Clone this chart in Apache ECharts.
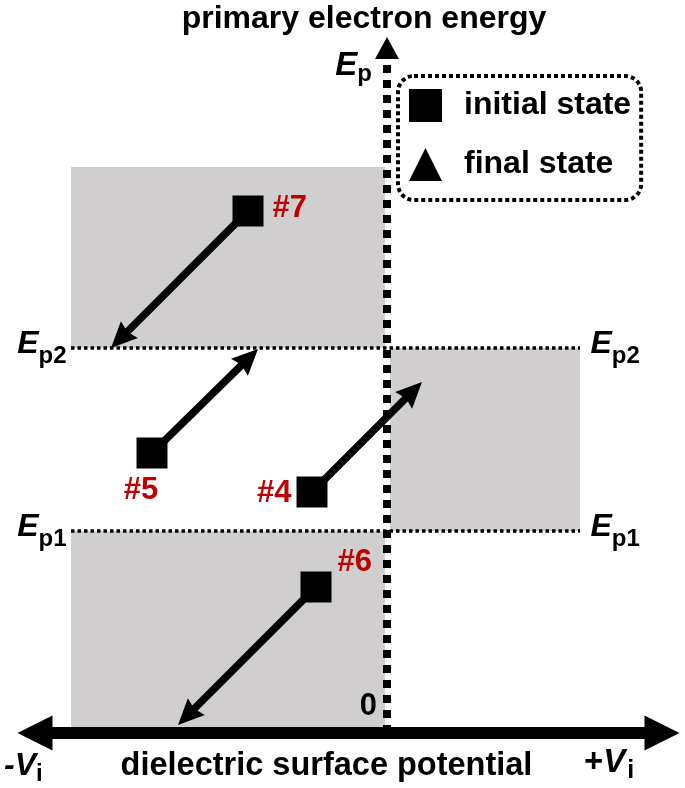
<!DOCTYPE html>
<html>
<head>
<meta charset="utf-8">
<title>primary electron energy / dielectric surface potential</title>
<script src="https://cdn.jsdelivr.net/npm/echarts@6/dist/echarts.min.js"></script>
<style>
  html, body { margin: 0; padding: 0; background: #fff; }
  #chart { width: 685px; height: 788px; }
</style>
</head>
<body>
<div id="chart"></div>
<script>
// schematic, arbitrary units: x = surface potential, y = primary electron energy, origin at (0,0)
var xMin = -352, xMax = 275;
var yMin = 0, yMax = 685;

var Ep1 = 202, Ep2 = 385;
var regionLeft = -316, regionRight = 193, regionTop = 566;

// grey regions [x0, x1, y0, y1]
var regions = [
  [regionLeft, -2, Ep2, regionTop],
  [3, regionRight, Ep1, Ep2],
  [regionLeft, -2, 0, Ep1]
];

// cases: initial state (square) -> final state (arrow tip)
var caseNames = ['#7', '#5', '#4', '#6'];
var initialX = [-139, -235, -75, -71];
var initialY = [522, 280, 241, 146];
var finalX = [-276, -129, 35, -209];
var finalY = [385, 384, 351, 8];

var F = '"Liberation Sans", Arial, sans-serif';
var RED = '#C00000';
var GREY = '#D0CECE';

// where each case number sits next to its square
var labelPlace = [
  { position: 'right', distance: 9, offset: [0, -3] },
  { position: 'bottom', distance: 6, offset: [-11, 0] },
  { position: 'left', distance: 5, offset: [0, 1] },
  { position: 'right', distance: 6, offset: [0, -25] }
];

var epRich = {
  e: { fontFamily: F, fontSize: 32, fontStyle: 'italic', fontWeight: 'bold', color: '#000', padding: [0, 0, 7, 0] },
  s: { fontFamily: F, fontSize: 24, fontWeight: 'bold', color: '#000', padding: [16, 0, 0, 0] }
};

function epLine(sub, e) {
  return {
    type: 'line',
    name: 'E' + sub,
    z: 3,
    silent: true,
    symbol: 'circle',
    symbolSize: 1,
    showSymbol: true,
    itemStyle: { color: 'rgba(0,0,0,0)' },
    lineStyle: { color: '#000', width: 3.5, type: [3.5, 3], cap: 'butt' },
    label: { show: true, formatter: '{e|E}{s|' + sub + '}', rich: epRich },
    data: [
      { value: [regionLeft, e], label: { position: 'left', distance: 4 } },
      { value: [regionRight, e], label: { position: 'right', distance: 10 } }
    ]
  };
}

var chart = echarts.init(document.getElementById('chart'));

var option = {
  animation: false,
  textStyle: { fontFamily: F },
  grid: { left: 35, right: 23, top: 48, bottom: 55, containLabel: false, outerBoundsMode: 'none' },
  legend: {
    left: 398,
    top: 76,
    orient: 'vertical',
    padding: [13, 10, 19, 11],
    itemWidth: 33,
    itemHeight: 33,
    itemGap: 26,
    borderColor: '#000',
    borderWidth: 4,
    borderType: [4, 3],
    borderRadius: 16,
    selectedMode: false,
    itemStyle: { opacity: 1 },
    textStyle: { fontFamily: F, fontSize: 32, fontWeight: 'bold', color: '#000', padding: [0, 0, 0, 17] },
    data: [
      { name: 'initial state', icon: 'rect' },
      { name: 'final state', icon: 'triangle' }
    ]
  },
  xAxis: {
    type: 'value',
    min: xMin,
    max: xMax,
    z: 10,
    name: 'dielectric surface potential',
    nameLocation: 'middle',
    nameGap: 17,
    nameTextStyle: { fontFamily: F, fontSize: 32.5, fontWeight: 'bold', color: '#000', padding: [0, 44, 0, 0] },
    axisLine: {
      show: true,
      onZero: true,
      symbol: ['triangle', 'triangle'],
      symbolSize: [35, 35],
      lineStyle: { color: '#000', width: 12, cap: 'butt' }
    },
    axisTick: { show: false },
    axisLabel: { show: false },
    splitLine: { show: false }
  },
  yAxis: {
    type: 'value',
    min: yMin,
    max: yMax,
    z: 10,
    // put the whole axis (line, labels, name) at x = 0
    position: 'left',
    offset: -352,
    name: 'primary electron energy',
    nameLocation: 'end',
    nameGap: 13,
    nameMoveOverlap: false,
    nameTextStyle: { fontFamily: F, fontSize: 32, fontWeight: 'bold', color: '#000', padding: [0, 46, 0, 0] },
    axisLine: {
      show: true,
      onZero: false,
      symbol: ['none', 'triangle'],
      symbolSize: [24, 22],
      lineStyle: { color: '#000', width: 8, type: [8, 7], cap: 'butt' }
    },
    axisTick: { show: false },
    splitLine: { show: false },
    axisLabel: {
      show: true,
      customValues: [0, yMax],
      margin: 10,
      formatter: function (v) {
        return v === 0 ? '{n|0}' : '{e|E}{s|p}';
      },
      rich: {
        n: { fontFamily: F, fontSize: 31, fontWeight: 'bold', color: '#000', padding: [0, 0, 53, 0] },
        e: { fontFamily: F, fontSize: 33, fontStyle: 'italic', fontWeight: 'bold', color: '#000', padding: [35, 0, 0, 0] },
        s: { fontFamily: F, fontSize: 24, fontWeight: 'bold', color: '#000', padding: [52, 5, 0, 0] }
      }
    }
  },
  graphic: [
    {
      type: 'text', x: 4, y: 766, silent: true,
      style: {
        text: '{v|-V}{s|i}', verticalAlign: 'middle', align: 'left',
        rich: {
          v: { fontFamily: F, fontSize: 32, fontStyle: 'italic', fontWeight: 'bold', fill: '#000' },
          s: { fontFamily: F, fontSize: 24, fontWeight: 'bold', fill: '#000', padding: [17, 0, 0, 0] }
        }
      }
    },
    {
      type: 'text', x: 584, y: 763, silent: true,
      style: {
        text: '{p|+}{v|V}{s|i}', verticalAlign: 'middle', align: 'left',
        rich: {
          p: { fontFamily: F, fontSize: 33, fontWeight: 'bold', fill: '#000' },
          v: { fontFamily: F, fontSize: 33, fontStyle: 'italic', fontWeight: 'bold', fill: '#000' },
          s: { fontFamily: F, fontSize: 25, fontWeight: 'bold', fill: '#000', padding: [17, 0, 0, 2] }
        }
      }
    }
  ],
  series: [
    {
      type: 'custom',
      name: 'regions',
      z: 1,
      silent: true,
      encode: { x: [0, 1], y: [2, 3] },
      data: regions,
      renderItem: function (params, api) {
        var p0 = api.coord([api.value(0), api.value(3)]);
        var p1 = api.coord([api.value(1), api.value(2)]);
        return {
          type: 'rect',
          shape: { x: p0[0], y: p0[1], width: p1[0] - p0[0], height: p1[1] - p0[1] },
          style: { fill: GREY }
        };
      }
    },
    epLine('p1', Ep1),
    epLine('p2', Ep2),
    {
      type: 'custom',
      name: 'final state',
      z: 12,
      silent: true,
      itemStyle: { color: '#000', opacity: 1 },
      encode: { x: [0, 2], y: [1, 3] },
      data: caseNames.map(function (n, i) {
        return [initialX[i], initialY[i], finalX[i], finalY[i]];
      }),
      renderItem: function (params, api) {
        var a = api.coord([api.value(0), api.value(1)]);
        var b = api.coord([api.value(2), api.value(3)]);
        var dx = b[0] - a[0], dy = b[1] - a[1];
        var len = Math.sqrt(dx * dx + dy * dy);
        var ux = dx / len, uy = dy / len;
        var headL = 26, headW = 24;
        var bx = b[0] - ux * headL, by = b[1] - uy * headL;
        return {
          type: 'group',
          children: [
            {
              type: 'line',
              shape: { x1: a[0], y1: a[1], x2: b[0] - ux * headL * 0.7, y2: b[1] - uy * headL * 0.7 },
              style: { stroke: '#000', lineWidth: 7.5 }
            },
            {
              type: 'polygon',
              shape: {
                points: [
                  [b[0], b[1]],
                  [bx - uy * headW / 2, by + ux * headW / 2],
                  [b[0] - ux * headL * 0.88, b[1] - uy * headL * 0.88],
                  [bx + uy * headW / 2, by - ux * headW / 2]
                ]
              },
              style: { fill: '#000' }
            }
          ]
        };
      }
    },
    {
      type: 'scatter',
      name: 'initial state',
      z: 13,
      silent: true,
      symbol: 'rect',
      symbolSize: 31,
      itemStyle: { color: '#000', opacity: 1 },
      label: {
        show: true,
        formatter: function (p) { return p.name; },
        fontFamily: F,
        fontSize: 31,
        fontWeight: 'bold',
        color: RED,
        opacity: 1
      },
      data: caseNames.map(function (n, i) {
        return { name: n, value: [initialX[i], initialY[i]], label: labelPlace[i] };
      })
    }
  ]
};

chart.setOption(option);
</script>
</body>
</html>
